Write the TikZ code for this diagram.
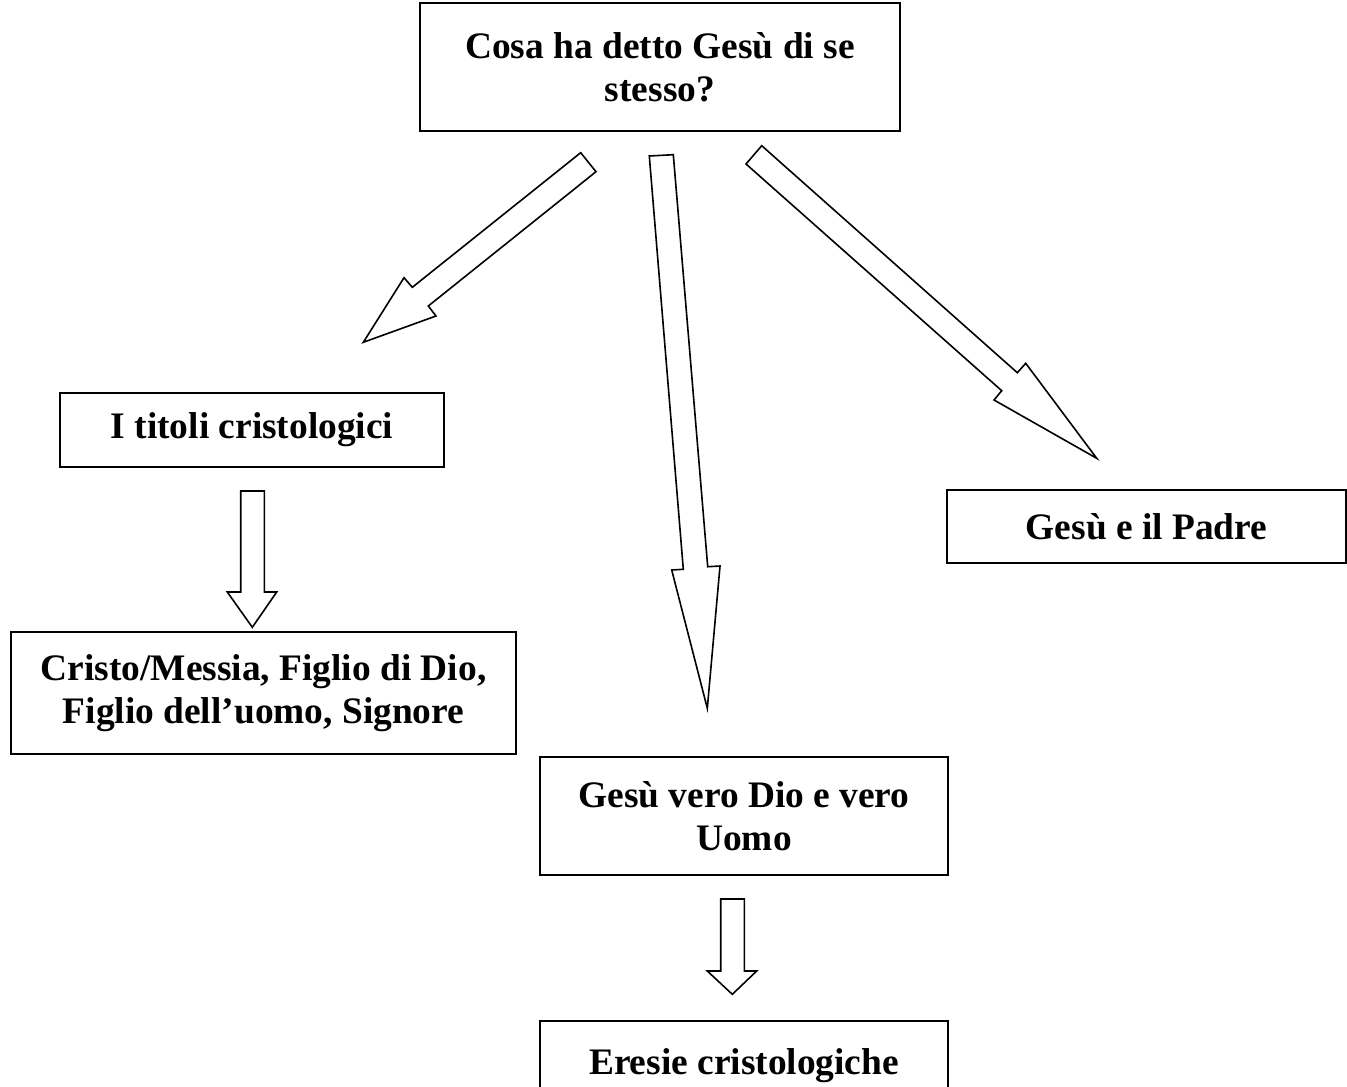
\documentclass[tikz,border=0pt]{standalone}
\usepackage{fontspec}
\setmainfont{Liberation Serif}
\begin{document}
\begin{tikzpicture}[x=0.5pt,y=-0.5pt,
  box/.style={draw=black,line width=1pt,align=center,inner sep=0pt,
    font=\fontsize{18.7pt}{21.3pt}\selectfont\bfseries},
  blockarrow/.style={draw=black,line width=0.8pt,fill=white,line join=miter}]
\useasboundingbox (0,0) rectangle (1347,1086);
\clip (0,0) rectangle (1347,1086);
\fill[white] (0,0) rectangle (1347,1086);

\node[box,minimum width=240pt,minimum height=64pt] (top) at (660,67)
  {Cosa ha detto Gesù di se\\stesso?};
\node[box,minimum width=192pt,minimum height=37pt] (titoli) at (252,430)
  {I titoli cristologici};
\node[box,minimum width=252.5pt,minimum height=61pt] (cristo) at (263.5,693)
  {Cristo/Messia, Figlio di Dio,\\Figlio dell’uomo, Signore};
\node[box,minimum width=199.5pt,minimum height=36.5pt] (padre) at (1146.5,526.5)
  {Gesù e il Padre};
\node[box,minimum width=204pt,minimum height=59pt] (verodio) at (744,816)
  {Gesù vero Dio e vero\\Uomo};
\node[box,minimum width=204pt,minimum height=44.5pt] (eresie) at (744,1065.5)
  {Eresie cristologiche};

% block arrows
\draw[blockarrow] (580.7,152.7) -- (412.3,287.3) -- (404,277.7) -- (363.3,342.3)
  -- (436,316) -- (428.3,306) -- (596,171.7) -- cycle;
\draw[blockarrow] (649.3,156) -- (683.3,569.3) -- (671.7,570) -- (707.3,708.3)
  -- (720,566) -- (707.7,566.7) -- (673.3,154.7) -- cycle;
\draw[blockarrow] (761.7,145.7) -- (746,164) -- (1001.7,390.7) -- (994,400)
  -- (1096.7,458.3) -- (1025.7,363.3) -- (1017.3,372.7) -- cycle;
\draw[blockarrow] (240.7,491) -- (240.7,592) -- (227.3,592) -- (252.3,627.3)
  -- (276.7,592) -- (264.3,592) -- (264.3,491) -- cycle;
\draw[blockarrow] (720.7,899) -- (720.7,971) -- (707.3,971) -- (732.3,994.3)
  -- (756.7,971) -- (744.3,971) -- (744.3,899) -- cycle;
\end{tikzpicture}
\end{document}
